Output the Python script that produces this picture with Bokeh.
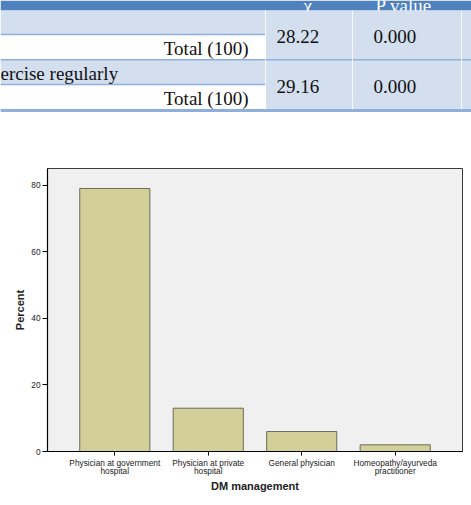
from bokeh.plotting import figure
from bokeh.models import FactorRange, Range1d, FixedTicker, ColumnDataSource
from bokeh.core.properties import value
from bokeh.embed import file_html
from bokeh.resources import INLINE

# ---- chart data ----
categories = [
    "Physician at government\nhospital",
    "Physician at private\nhospital",
    "General physician",
    "Homeopathy/ayurveda\npractitioner",
]
percent = [79, 13, 6, 2]
y_ticks = [0, 20, 40, 60, 80]

# ---- table data (chi-square results) ----
row_labels = ["", "ercise regularly"]
total_labels = ["Total (100)", "Total (100)"]
chi_values = [28.22, 29.16]
p_values = ["0.000", "0.000"]
header_labels = ["\u03c7", "P value"]

HEAD_BLUE = "#4f81bd"
LIGHT_BLUE = "#d3dfee"
LINE_BLUE = "#8eaedb"
SERIF = value("Liberation Serif")

# ---- table figure (pixel-like coordinates, y downward) ----
W = 471
TH = 112
t = figure(width=W, height=TH, x_range=Range1d(0, W), y_range=Range1d(TH, 0),
           output_backend="svg", toolbar_location=None,
           min_border_left=0, min_border_right=0,
           min_border_top=0, min_border_bottom=0)
t.axis.visible = False
t.grid.visible = False
t.outline_line_color = None
t.background_fill_color = "white"
t.border_fill_color = "white"

label_col_right = 265
chi_col_x = 276
p_col_x = 373
col_lines = [265, 352, 461]
row_h = 50
top = 10

# header band
t.quad(left=0, right=W, top=0, bottom=top, fill_color=HEAD_BLUE, line_color=None)
t.text(x=[303, 375], y=[5, 5], text=header_labels, text_color="white",
       text_font=SERIF, text_font_size="19px",
       text_baseline="alphabetic", text_align="left")

for i in range(len(chi_values)):
    y0 = top + i * row_h
    # stat cells (merged over the two sub-rows)
    t.quad(left=label_col_right, right=W, top=y0, bottom=y0 + row_h,
           fill_color=LIGHT_BLUE, line_color=None)
    # variable name row
    t.quad(left=0, right=label_col_right, top=y0, bottom=y0 + 24,
           fill_color=LIGHT_BLUE, line_color=None)
    # total row (white)
    t.quad(left=0, right=label_col_right, top=y0 + 24, bottom=y0 + row_h - 1,
           fill_color="white", line_color=None)
    t.segment(x0=0, y0=y0 + 24, x1=label_col_right, y1=y0 + 24,
              line_color=LINE_BLUE, line_width=1.5)
    t.segment(x0=0, y0=y0 + row_h - 0.5, x1=W, y1=y0 + row_h - 0.5,
              line_color=LINE_BLUE, line_width=2)
    t.text(x=[0], y=[y0 + 13], text=[row_labels[i]], text_color="#111",
           text_font=SERIF, text_font_size="19px",
           text_baseline="middle", text_align="left")
    t.text(x=[248], y=[y0 + 38], text=[total_labels[i]], text_color="#111",
           text_font=SERIF, text_font_size="19px",
           text_baseline="middle", text_align="right")
    t.text(x=[chi_col_x], y=[y0 + 26], text=[f"{chi_values[i]:.2f}"], text_color="#111",
           text_font=SERIF, text_font_size="19px",
           text_baseline="middle", text_align="left")
    t.text(x=[p_col_x], y=[y0 + 26], text=[p_values[i]], text_color="#111",
           text_font=SERIF, text_font_size="19px",
           text_baseline="middle", text_align="left")

# faint white column separators
for cx in col_lines:
    t.segment(x0=cx, y0=top, x1=cx, y1=top + 2 * row_h - 1,
              line_color="white", line_width=1, line_alpha=0.8)
t.segment(x0=0, y0=top + 2 * row_h + 0.5, x1=W, y1=top + 2 * row_h + 0.5,
          line_color=LINE_BLUE, line_width=2)

# ---- bar chart ----
src = ColumnDataSource(dict(cat=categories, pct=percent))
p = figure(width=W, height=505 - TH,
           x_range=FactorRange(*categories, range_padding=0.22,
                               range_padding_units="absolute"),
           y_range=Range1d(0, 85),
           output_backend="svg", toolbar_location=None,
           min_border_left=47, min_border_right=9,
           min_border_top=56, min_border_bottom=54)

p.vbar(x="cat", top="pct", width=0.75, source=src,
       fill_color="#d3cf98", line_color="#6b6b5a", line_width=1)

p.background_fill_color = "#f0f0f0"
p.border_fill_color = "white"
p.outline_line_color = "#3a3a3a"
p.outline_line_width = 1
p.grid.visible = False

p.yaxis.ticker = FixedTicker(ticks=y_ticks)
p.yaxis.minor_tick_line_color = None
p.yaxis.major_tick_out = 5
p.yaxis.major_tick_in = 0
p.yaxis.major_label_standoff = 2
p.yaxis.axis_label = "Percent"
p.yaxis.axis_label_standoff = 2

p.xaxis.major_tick_out = 4
p.xaxis.major_tick_in = 0
p.xaxis.major_label_standoff = 2
p.xaxis.axis_label = "DM management"
p.xaxis.axis_label_standoff = 1

for ax in (p.xaxis[0], p.yaxis[0]):
    ax.axis_line_color = "black"
    ax.axis_line_width = 1.2
    ax.major_tick_line_color = "black"
    ax.major_label_text_font = "Liberation Sans"
    ax.major_label_text_font_size = "8.3px"
    ax.major_label_text_line_height = 0.85
    ax.major_label_text_color = "#222"
    ax.axis_label_text_font = "Liberation Sans"
    ax.axis_label_text_font_style = "bold"
    ax.axis_label_text_font_size = "11px"
    ax.axis_label_text_color = "#222"

# two independent roots stacked on the page
open("out.html", "w").write(file_html([t, p], INLINE))
